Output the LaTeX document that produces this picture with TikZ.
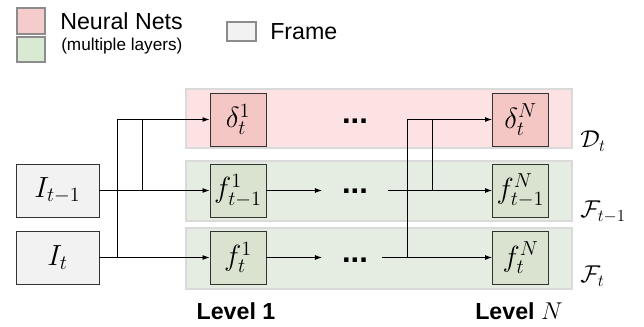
\documentclass[tikz,border=0pt]{standalone}
\usepackage{fontspec}
\newfontfamily\labelfont{Liberation Sans}
\usepackage{tikz}
\usetikzlibrary{arrows.meta}

\definecolor{netred}{RGB}{244,199,197}
\definecolor{netgreen}{RGB}{217,227,208}
\definecolor{keyred}{RGB}{244,204,204}
\definecolor{keygreen}{RGB}{217,234,211}
\definecolor{framegray}{RGB}{242,242,242}
\definecolor{bandred}{RGB}{253,226,227}
\definecolor{bandgreen}{RGB}{229,236,225}
\definecolor{bandedge}{RGB}{218,218,218}

\tikzset{
  netbox/.style = {rectangle, draw=black!80, line width=0.6pt, inner sep=0pt, minimum width=1.4cm, minimum height=1.325cm, font=\fontsize{20}{24}\selectfont},
  net_r/.style = {netbox, fill=netred},
  net_g/.style = {netbox, fill=netgreen},
  framebox/.style = {netbox, fill=framegray, minimum width=2.075cm},
  band_r/.style = {draw=bandedge, fill=bandred, line width=1pt},
  band_g/.style = {draw=bandedge, fill=bandgreen, line width=1pt},
  keybox/.style = {draw=black!45, line width=0.8pt},
  link/.style = {line width=0.6pt, -{Latex[length=5pt,width=3.5pt]}},
  wire/.style = {line width=0.6pt},
  dots/.style = {font=\labelfont\bfseries\fontsize{22}{24}\selectfont, inner sep=0pt},
  keytext/.style = {anchor=west, inner sep=0pt, font=\labelfont\fontsize{16.5}{18}\selectfont},
  leveltext/.style = {font=\labelfont\bfseries\fontsize{16.5}{18}\selectfont},
  setname/.style = {anchor=west, inner sep=0pt, font=\fontsize{18}{20}\selectfont}
}

\begin{document}
\begin{tikzpicture}[x=0.025cm, y=-0.025cm]
    \useasboundingbox (0,0) rectangle (644,327);

    % legend
    \draw[keybox, fill=keyred] (17,8) rectangle (45,34);
    \draw[keybox, fill=keygreen] (17,37) rectangle (45,62);
    \node[keytext] (k_nets) at (60,21) {Neural Nets};
    \node[keytext, font=\labelfont\fontsize{12.2}{14}\selectfont] (k_layers) at (61,46) {(multiple layers)};
    \draw[keybox, fill=framegray] (227,22) rectangle (256,41);
    \node[keytext] (k_frame) at (270,32) {Frame};

    % bands
    \draw[band_r] (186,89) rectangle (572,148);
    \draw[band_g] (186,161) rectangle (572,221);
    \draw[band_g] (186,228) rectangle (572,289);

    % frames
    \node[framebox] (Itm1) at (57.5,190.5) {$I_{t-1}$};
    \node[framebox] (It) at (57.5,257.5) {$I_t$};

    % level 1
    \node[net_r] (d1) at (238,119.5) {$\delta_t^1$};
    \node[net_g] (f1tm1) at (238,190.5) {$f_{t-1}^1$};
    \node[net_g] (f1t) at (238,257.5) {$f_t^1$};

    % level N
    \node[net_r] (dN) at (520.5,119.5) {$\delta_t^N$};
    \node[net_g] (fNtm1) at (520.5,190.5) {$f_{t-1}^N$};
    \node[net_g] (fNt) at (520.5,257.5) {$f_t^N$};

    % dots
    \node[dots] (dots_d) at (355,121) {...};
    \node[dots] (dots_f1) at (355,191) {...};
    \node[dots] (dots_f2) at (355,260) {...};

    % set names
    \node[setname] (Dt) at (580,141) {$\mathcal{D}_t$};
    \node[setname] (Ftm1) at (580,212) {$\mathcal{F}_{t-1}$};
    \node[setname] (Ft) at (580,276) {$\mathcal{F}_t$};

    % levels
    \node[leveltext] (lev1) at (236,311) {Level 1};
    \node[leveltext] (levN) at (519,311) {Level $N$};

    % junctions
    \coordinate (j1) at (117,257.5);
    \coordinate (j2) at (142,190.5);
    \coordinate (a1) at (322,190.5);
    \coordinate (a2) at (322,257.5);
    \coordinate (b1) at (388,190.5);
    \coordinate (b2) at (382,257.5);
    \coordinate (j3) at (432,190.5);
    \coordinate (j4) at (407,257.5);

    % inputs to level 1
    \draw[link] (Itm1.east) -- (f1tm1.west);
    \draw[link] (It.east) -- (f1t.west);
    \draw[link] (j1) |- (d1.west);
    \draw[wire] (j2) -- (j2 |- d1.west);

    % towards level N
    \draw[link] (f1tm1.east) -- (a1);
    \draw[link] (f1t.east) -- (a2);
    \draw[link] (b1) -- (fNtm1.west);
    \draw[link] (b2) -- (fNt.west);
    \draw[link] (j4) |- (dN.west);
    \draw[wire] (j3) -- (j3 |- dN.west);
\end{tikzpicture}
\end{document}
